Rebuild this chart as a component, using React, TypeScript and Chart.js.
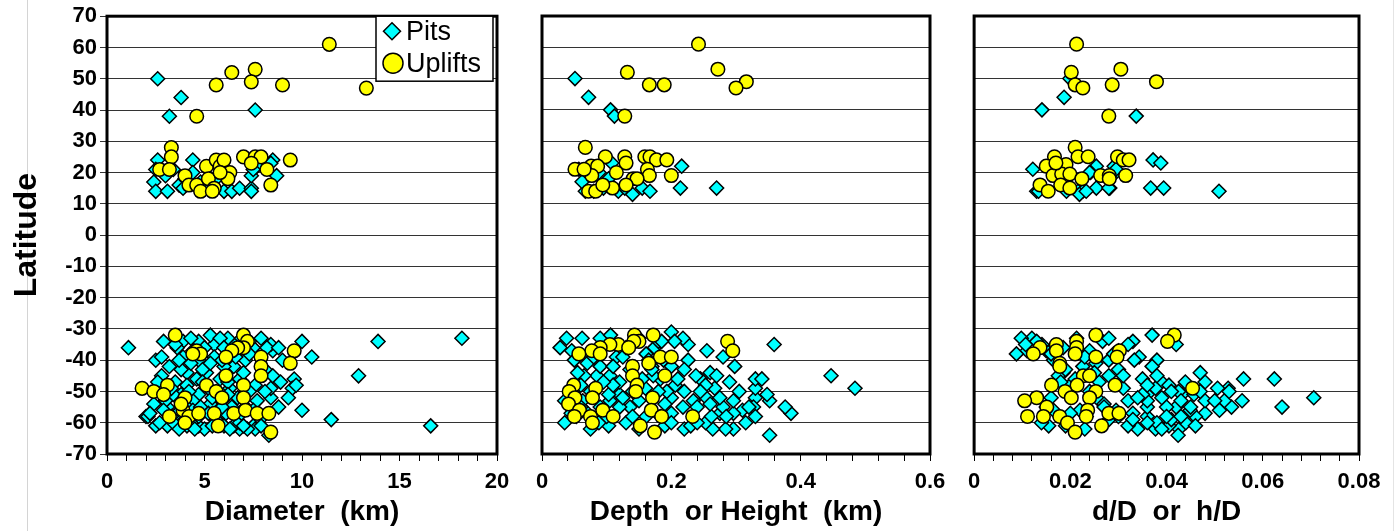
import React, { useEffect, useRef } from 'react';
import { Chart, registerables } from 'chart.js';

Chart.register(...registerables);

const FONT = '"Liberation Sans", Arial, Helvetica, sans-serif';

const latTicks = { min: -70, max: 70, step: 10 };
const seriesNames = ['Pits', 'Uplifts'];

// ---------- Panel 1: Diameter (km) ----------
const diamPitsX = [
  2.6, 3.8, 3.2, 7.6, 2.6, 2.5, 2.4, 2.5, 3.1, 3.0, 3.4, 4.4, 3.7, 4.0, 4.4, 4.8, 5.0, 5.4, 5.6, 6.0, 6.4, 6.8, 7.4, 7.4, 7.4, 7.7, 7.5, 8.5, 8.7, 8.4, 3.9,
  1.1, 13.9, 18.2, 12.9, 11.5, 16.6, 10.0, 10.5, 10.0, 9.6, 9.5, 9.3, 8.8, 8.4, 8.4, 8.5, 8.5, 8.4, 8.2, 8.8, 9.0, 8.3, 7.5, 7.6, 6.8, 6.5,
  7.6, 7.5, 7.3, 6.5, 6.3, 6.2, 5.5, 5.3, 5.5, 5.1, 4.7, 4.7, 4.7, 4.1, 4.1, 3.8, 3.9, 3.6, 2.5, 2.9, 2.8, 2.8, 2.0, 2.1, 2.5, 3.1, 2.4,
  3.6, 4.1, 4.7, 5.3, 5.6, 6.1, 6.8, 7.1, 5.9, 6.7, 4.4, 3.8, 5.2, 5.8, 6.8, 4.6, 7.1, 4.7, 6.2, 4.4, 3.4, 3.1, 4.1, 5.2, 8.0, 7.7, 7.5,
  3.3, 2.7, 4.3, 5.0, 6.0, 7.2, 3.5, 4.9, 6.0, 7.0, 5.6, 4.4, 6.4, 3.0, 5.0, 6.6, 7.9, 9.7, 3.9, 5.8,
  2.2, 2.9, 3.4, 3.7, 4.5, 5.4, 6.3, 7.0, 7.9, 3.2, 3.7, 4.3, 5.3, 5.9, 6.6, 7.3, 4.9, 6.2, 7.3, 8.1, 4.2, 5.4, 6.2, 4.8, 5.9, 6.9,
  3.5, 4.3, 6.0, 6.9, 8.1, 8.9, 2.6, 3.3
];
const diamPitsLat = [
  50, 44, 38, 40, 24, 21, 17, 14, 14, 19, 21, 24, 16, 18, 20, 17, 16, 17, 18, 14, 14, 15, 15, 14, 19, 22, 21, 24, 19, 23, 15,
  -36, -34, -33, -45, -59, -61, -56, -39, -34, -46, -49, -52, -55, -52, -49, -45, -37, -35, -36, -36, -40, -64, -61, -62, -62, -61,
  -48, -36, -34, -42, -49, -33, -35, -32, -39, -44, -51, -34, -61, -44, -48, -43, -34, -36, -40, -34, -45, -39, -58, -58, -61, -61, -54,
  -57, -61, -58, -54, -59, -57, -60, -55, -53, -52, -53, -51, -49, -46, -46, -46, -40, -40, -38, -37, -51, -55, -55, -57, -58, -53, -56,
  -58, -60, -60, -62, -61, -62, -47, -43, -42, -44, -50, -56, -55, -53, -36, -35, -33, -48, -39, -33,
  -57, -56, -60, -62, -62, -61, -62, -61, -61, -42, -40, -41, -41, -40, -39, -38, -47, -47, -50, -50, -50, -52, -51, -55, -55, -57,
  -35, -33, -36, -33, -43, -47, -47, -49
];
const diamUpX = [
  11.4, 13.3, 5.6, 6.4, 7.6, 7.4, 9.0, 4.6, 3.3, 3.3, 2.7, 3.2, 4.0, 4.2, 4.6, 4.8, 5.1, 5.2, 5.6, 5.8, 6.0, 6.3, 6.2, 5.5, 5.4, 7.0, 7.6, 7.9, 7.4, 8.2, 8.4, 9.4, 5.8,
  3.5, 7.0, 7.2, 7.0, 6.7, 6.4, 4.6, 4.8, 4.4, 6.1, 7.9, 7.9, 7.9, 9.6, 9.4, 6.1, 5.1, 7.0, 3.1, 1.8, 2.4, 2.9, 4.0, 5.6, 5.9, 7.0,
  3.9, 3.2, 4.2, 4.7, 5.5, 6.5, 7.1, 7.7, 8.3, 5.7, 4.0, 8.4, 3.8
];
const diamUpLat = [
  61, 47, 48, 52, 53, 49, 48, 38, 28, 25, 21, 21, 19, 16, 16, 14, 22, 18, 24, 22, 24, 20, 18, 15, 14, 25, 25, 25, 23, 21, 16, 24, 20,
  -32, -32, -34, -36, -36, -37, -37, -38, -38, -39, -39, -42, -45, -37, -41, -45, -48, -48, -48, -49, -50, -51, -52, -50, -52, -52,
  -56, -58, -58, -57, -57, -57, -56, -57, -57, -61, -60, -63, -54
];

// ---------- Panel 2: Depth or Height (km) ----------
const depthPitsX = [
  0.051, 0.072, 0.106, 0.112, 0.216, 0.214, 0.27, 0.057, 0.067, 0.108, 0.118, 0.14, 0.155, 0.167, 0.128, 0.088, 0.103, 0.062, 0.08, 0.095,
  0.359, 0.447, 0.484, 0.352, 0.385, 0.376, 0.352, 0.348, 0.33, 0.33, 0.33, 0.34, 0.327, 0.33, 0.31, 0.296, 0.284, 0.264, 0.253, 0.22,
  0.296, 0.275, 0.262, 0.298, 0.28, 0.255, 0.29, 0.267, 0.254, 0.245, 0.238, 0.226, 0.226, 0.218, 0.2, 0.205, 0.296, 0.28, 0.234, 0.22,
  0.206, 0.2, 0.2, 0.193, 0.183, 0.172, 0.174, 0.161, 0.15, 0.136, 0.13, 0.103, 0.088, 0.09, 0.105, 0.12, 0.12, 0.105, 0.12, 0.136,
  0.085, 0.065, 0.07, 0.09, 0.08, 0.062, 0.038, 0.028, 0.046, 0.09, 0.106, 0.12, 0.115, 0.035, 0.035, 0.053, 0.066, 0.063, 0.103, 0.161,
  0.183, 0.218, 0.24, 0.253, 0.275, 0.17, 0.188, 0.2, 0.045, 0.075, 0.14, 0.16, 0.18, 0.11, 0.055, 0.125, 0.23, 0.26, 0.315, 0.19,
  0.05, 0.06, 0.075, 0.095, 0.11, 0.125, 0.14, 0.155, 0.165, 0.18, 0.19, 0.21, 0.22, 0.245, 0.26, 0.27, 0.285, 0.305, 0.32, 0.24,
  0.2, 0.15, 0.1, 0.06, 0.13, 0.15, 0.185, 0.17
];
const depthPitsLat = [
  50, 44, 40, 38, 22, 15, 15, 21, 14, 23, 14, 13, 15, 14, 15, 20, 18, 17, 14, 15,
  -35, -45, -49, -64, -57, -55, -53, -51, -52, -49, -46, -46, -55, -58, -56, -62, -62, -62, -60, -62,
  -57, -57, -58, -42, -39, -37, -47, -49, -52, -46, -45, -40, -35, -33, -31, -34, -53, -55, -53, -50,
  -48, -52, -57, -50, -46, -45, -36, -38, -53, -55, -60, -61, -60, -55, -53, -55, -51, -45, -47, -43,
  -45, -45, -41, -42, -39, -33, -33, -36, -37, -33, -32, -36, -39, -53, -60, -58, -56, -53, -51, -58,
  -58, -55, -55, -48, -52, -42, -40, -42, -57, -62, -58, -49, -34, -48, -44, -39, -61, -44, -60, -61,
  -40, -48, -50, -47, -42, -52, -50, -46, -40, -50, -54, -46, -43, -50, -54, -45, -58, -50, -55, -60,
  -60, -62, -58, -55, -36, -33, -34, -43
];
const depthUpX = [
  0.242, 0.272, 0.316, 0.3, 0.132, 0.166, 0.189, 0.128, 0.067, 0.098, 0.128, 0.159, 0.167, 0.177, 0.193, 0.051, 0.076, 0.086, 0.13, 0.115,
  0.163, 0.166, 0.2, 0.077, 0.141, 0.109, 0.072, 0.083, 0.094, 0.065, 0.147, 0.13,
  0.143, 0.172, 0.15, 0.142, 0.118, 0.105, 0.09, 0.077, 0.09, 0.057, 0.134, 0.287, 0.295, 0.183, 0.2, 0.165, 0.14, 0.19, 0.14, 0.147,
  0.145, 0.049, 0.083, 0.042, 0.051, 0.078, 0.041, 0.058, 0.171, 0.169, 0.094, 0.11, 0.185, 0.233, 0.05, 0.075, 0.078, 0.152, 0.174
];
const depthUpLat = [
  61, 53, 49, 47, 52, 48, 48, 38, 28, 25, 25, 25, 25, 24, 24, 21, 22, 22, 23, 20,
  21, 19, 19, 19, 18, 15, 14, 14, 16, 21, 18, 16,
  -32, -32, -34, -34, -35, -35, -36, -37, -38, -38, -36, -34, -37, -39, -39, -41, -42, -45, -45, -48,
  -50, -48, -49, -50, -52, -52, -54, -56, -52, -56, -56, -58, -58, -58, -58, -58, -60, -61, -63
];

// ---------- Panel 3: d/D or h/D ----------
const ratioPitsX = [
  0.0141, 0.0187, 0.0337, 0.0372, 0.0388, 0.0367, 0.0394, 0.0509, 0.0122, 0.013, 0.0192, 0.0216, 0.0254, 0.0254, 0.0242, 0.0282, 0.0291, 0.0226, 0.0199,
  0.024, 0.028, 0.0219, 0.0233, 0.0288, 0.0295, 0.0134,
  0.0706, 0.064, 0.0624, 0.056, 0.0557, 0.0535, 0.0528, 0.052, 0.0506, 0.051, 0.048, 0.048, 0.046, 0.0449, 0.0439, 0.0432, 0.0425, 0.0426,
  0.0424, 0.042, 0.042, 0.0405, 0.04, 0.039, 0.039, 0.038, 0.037, 0.037, 0.0377, 0.036, 0.036, 0.036, 0.035, 0.0343, 0.034, 0.033, 0.0333,
  0.032, 0.031, 0.032, 0.03, 0.0295, 0.028, 0.028, 0.028, 0.0261, 0.0267, 0.028, 0.0253, 0.0233, 0.023, 0.0226, 0.0213, 0.02, 0.019,
  0.0165, 0.0155, 0.014, 0.016, 0.0165, 0.015, 0.012, 0.011, 0.0098, 0.0088, 0.0107, 0.0141, 0.0185, 0.0185, 0.024, 0.03, 0.0457, 0.048,
  0.0377, 0.0405, 0.033, 0.036, 0.041, 0.044, 0.047, 0.026, 0.022, 0.031, 0.038, 0.043, 0.035, 0.027, 0.0175,
  0.013, 0.016, 0.019, 0.021, 0.024, 0.027, 0.03, 0.033, 0.034, 0.036, 0.038, 0.04, 0.041, 0.043, 0.045, 0.047, 0.05, 0.025, 0.029, 0.032,
  0.023, 0.018, 0.015, 0.02, 0.036, 0.039, 0.046, 0.053
];
const ratioPitsLat = [
  40, 44, 38, 24, 23, 15, 15, 14, 21, 14, 14, 14, 15, 22, 20, 15, 22, 14, 50,
  20, 15, 13, 14, 19, 21, 14,
  -52, -55, -46, -46, -53, -55, -49, -53, -49, -56, -47, -57, -58, -56, -47, -51, -50, -62,
  -64, -55, -35, -61, -55, -52, -47, -40, -42, -32, -62, -58, -55, -51, -46, -39, -62, -34, -40,
  -53, -49, -61, -43, -56, -45, -40, -59, -53, -34, -33, -41, -58, -62, -42, -33, -48, -61,
  -56, -61, -60, -52, -40, -37, -33, -37, -33, -38, -35, -35, -36, -44, -37, -37, -51, -53,
  -49, -48, -57, -53, -59, -60, -44, -47, -56, -45, -60, -58, -51, -54, -45,
  -34, -38, -43, -46, -50, -55, -58, -59, -52, -48, -45, -58, -50, -53, -55, -50, -53, -44, -38, -35,
  -39, -47, -55, -57, -60, -62, -61, -50
];
const ratioUpX = [
  0.0213, 0.0305, 0.0379, 0.0202, 0.021, 0.0226, 0.0287, 0.028, 0.021, 0.0216, 0.0237, 0.0167, 0.0298, 0.031, 0.0322, 0.015, 0.0189, 0.0191,
  0.0164, 0.0182, 0.0199, 0.0224, 0.0263, 0.0281, 0.0315, 0.0137, 0.0154, 0.018, 0.0199, 0.0281, 0.017,
  0.0416, 0.0402, 0.0454, 0.0253, 0.0213, 0.0213, 0.0171, 0.0171, 0.0137, 0.0123, 0.0178, 0.0178, 0.021, 0.0253, 0.0302, 0.0297, 0.0227,
  0.024, 0.0161, 0.0214, 0.0293, 0.0189, 0.0253, 0.0202, 0.024, 0.013, 0.0105, 0.0151, 0.0111, 0.0144, 0.0178, 0.0236, 0.0233, 0.028,
  0.0301, 0.0194, 0.021, 0.0265
];
const ratioUpLat = [
  61, 53, 49, 52, 48, 47, 48, 38, 28, 25, 25, 25, 25, 24, 24, 22, 21, 22.5,
  19, 19.5, 19.5, 18, 19, 19, 19, 16, 14, 16, 15, 18, 23,
  -32, -34, -49, -32, -34, -36, -35, -37, -36, -38, -41, -42, -38, -39, -37, -39, -45,
  -45, -48, -48, -48, -50, -50, -52, -52, -52, -53, -55, -58, -58, -58, -56, -58, -57,
  -57, -60, -63, -61
];

const toPoints = (xs: number[], ys: number[]) => xs.map((x, i) => ({ x, y: ys[i] }));

const PIT_STYLE = { pointStyle: 'rectRot', pointRadius: 7, backgroundColor: '#00FFFF', borderColor: '#000000', pointBorderWidth: 1.5 };
const UP_STYLE = { pointStyle: 'circle', pointRadius: 6.8, backgroundColor: '#FFFF00', borderColor: '#000000', pointBorderWidth: 1.5 };

const framePlugin = {
  id: 'frame',
  afterDatasetsDraw(chart: any) {
    const { ctx, chartArea } = chart;
    ctx.save();
    ctx.strokeStyle = '#000';
    ctx.lineWidth = 3;
    ctx.strokeRect(chartArea.left, chartArea.top, chartArea.right - chartArea.left, chartArea.bottom - chartArea.top);
    ctx.restore();
  },
};

const boxLegendPlugin = {
  id: 'boxLegend',
  afterDraw(chart: any) {
    const { ctx, chartArea } = chart;
    const w = 117, h = 65;
    const x0 = chartArea.right - 121, y0 = chartArea.top;
    ctx.save();
    ctx.fillStyle = '#fff';
    ctx.fillRect(x0, y0, w, h);
    ctx.strokeStyle = '#000';
    ctx.lineWidth = 1.5;
    ctx.strokeRect(x0, y0, w, h);
    const ds = chart.data.datasets;
    const r1 = 8.5;
    const cx1 = x0 + 16, cy1 = y0 + 15;
    ctx.beginPath();
    ctx.moveTo(cx1, cy1 - r1);
    ctx.lineTo(cx1 + r1, cy1);
    ctx.lineTo(cx1, cy1 + r1);
    ctx.lineTo(cx1 - r1, cy1);
    ctx.closePath();
    ctx.fillStyle = ds[1].backgroundColor;
    ctx.fill();
    ctx.lineWidth = 1.5;
    ctx.strokeStyle = '#000';
    ctx.stroke();
    const cx2 = x0 + 17, cy2 = y0 + 47;
    ctx.beginPath();
    ctx.arc(cx2, cy2, 10, 0, Math.PI * 2);
    ctx.fillStyle = ds[0].backgroundColor;
    ctx.fill();
    ctx.stroke();
    ctx.fillStyle = '#000';
    ctx.font = `27px ${FONT}`;
    ctx.textBaseline = 'middle';
    ctx.textAlign = 'left';
    ctx.fillText(ds[1].label, x0 + 30, cy1 + 1);
    ctx.fillText(ds[0].label, x0 + 30, cy2 + 1);
    ctx.restore();
  },
};

type PanelProps = {
  left: number;
  width: number;
  plotLeft: number;
  plotRight: number;
  pitsX: number[];
  pitsLat: number[];
  upX: number[];
  upLat: number[];
  xMax: number;
  xStep: number;
  xTitle: string;
  fmt: (v: number) => string;
  showY: boolean;
  legend: boolean;
};

function Panel(p: PanelProps) {
  const ref = useRef<HTMLCanvasElement | null>(null);
  useEffect(() => {
    if (!ref.current) return;
    const H = 531;
    const plotTop = 16;
    const plotBottom = 454;
    const chart = new Chart(ref.current, {
      type: 'scatter',
      data: {
        datasets: [
          { label: seriesNames[1], data: toPoints(p.upX, p.upLat), order: 0, ...UP_STYLE } as any,
          { label: seriesNames[0], data: toPoints(p.pitsX, p.pitsLat), order: 1, ...PIT_STYLE } as any,
        ],
      },
      options: {
        responsive: false,
        animation: false,
        devicePixelRatio: 1,
        layout: { padding: { left: 0, right: p.width - p.plotRight, top: plotTop, bottom: 0 } },
        plugins: { legend: { display: false }, tooltip: { enabled: false } },
        scales: {
          x: {
            type: 'linear',
            min: 0,
            max: p.xMax,
            afterFit: (s: any) => { s.height = H - plotBottom; },
            ticks: {
              stepSize: p.xStep,
              autoSkip: false,
              maxRotation: 0,
              minRotation: 0,
              padding: 8,
              color: '#000',
              font: { family: FONT, size: 22, weight: 'bold' },
              callback: (v: any, i: number) => (i % 5 === 0 ? p.fmt(Number(v)) : ''),
            },
            grid: { drawOnChartArea: false, drawTicks: true, tickLength: 7, color: '#000', lineWidth: 1 },
            border: { display: false },
            title: {
              display: true,
              text: p.xTitle,
              color: '#000',
              font: { family: FONT, size: 28, weight: 'bold' },
              padding: { top: 0, bottom: 2 },
            },
          },
          y: {
            type: 'linear',
            min: latTicks.min,
            max: latTicks.max,
            afterFit: (s: any) => { s.width = p.plotLeft; },
            ticks: {
              stepSize: latTicks.step,
              display: p.showY,
              padding: 3,
              color: '#000',
              font: { family: FONT, size: 22, weight: 'bold' },
            },
            grid: { drawTicks: p.showY, tickLength: 7, color: '#333333', lineWidth: 1 },
            border: { display: false },
            title: {
              display: p.showY,
              text: 'Latitude',
              color: '#000',
              font: { family: FONT, size: 32, weight: 'bold' },
              padding: { top: 8, bottom: 0 },
            },
          },
        },
      } as any,
      plugins: p.legend ? [framePlugin, boxLegendPlugin] : [framePlugin],
    });
    return () => chart.destroy();
  }, []);
  return (
    <div style={{ position: 'absolute', left: p.left, top: 0, width: p.width, height: 531 }}>
      <canvas ref={ref} width={p.width} height={531} style={{ width: p.width, height: 531, display: 'block' }} />
    </div>
  );
}

export default function App() {
  const fmtInt = (v: number) => String(Math.round(v));
  const fmt1 = (v: number) => (Math.abs(v) < 1e-9 ? '0' : v.toFixed(1));
  const fmt2 = (v: number) => (Math.abs(v) < 1e-9 ? '0' : v.toFixed(2));
  return (
    <div style={{ position: 'absolute', left: 0, top: 0, width: 1400, height: 531, background: '#fff', overflow: 'hidden' }}>
      <div style={{ position: 'absolute', left: 27, top: 0, width: 1, height: 531, background: '#d4d4d4' }} />
      <div style={{ position: 'absolute', left: 1393, top: 0, width: 1, height: 531, background: '#e4e4e4' }} />
      <Panel left={0} width={520} plotLeft={107} plotRight={497}
        pitsX={diamPitsX} pitsLat={diamPitsLat} upX={diamUpX} upLat={diamUpLat}
        xMax={20} xStep={1} xTitle="Diameter  (km)" fmt={fmtInt} showY={true} legend={true} />
      <Panel left={520} width={440} plotLeft={22} plotRight={410}
        pitsX={depthPitsX} pitsLat={depthPitsLat} upX={depthUpX} upLat={depthUpLat}
        xMax={0.6} xStep={0.04} xTitle="Depth  or Height  (km)" fmt={fmt1} showY={false} legend={false} />
      <Panel left={960} width={440} plotLeft={10} plotRight={399}
        pitsX={ratioPitsX} pitsLat={ratioPitsLat} upX={ratioUpX} upLat={ratioUpLat}
        xMax={0.08} xStep={0.004} xTitle="d/D  or  h/D" fmt={fmt2} showY={false} legend={false} />
    </div>
  );
}
